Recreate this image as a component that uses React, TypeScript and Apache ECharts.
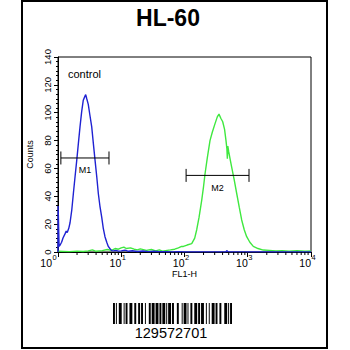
import React, { useEffect, useRef } from "react";
import * as echarts from "echarts";

const blueX = [1.0, 1.005, 1.04, 1.08, 1.14, 1.2, 1.29, 1.35, 1.4, 1.48, 1.55, 1.65, 1.75, 1.86, 1.98, 2.1, 2.23, 2.37, 2.51, 2.62, 2.74, 2.85, 3.01, 3.2, 3.41, 3.62, 3.85, 4.1, 4.34, 4.6, 4.91, 5.2, 5.53, 5.9, 6.24, 6.6, 7.06, 7.6, 8.2, 9, 10, 11.5, 13, 15, 18, 22, 27, 33, 40, 50, 65, 80, 100, 130, 170, 220, 300, 400, 450, 470, 490, 600, 800, 1000, 1500, 2500, 4000, 6000, 10000];
const blueY = [0, 33, 4, 5, 7, 10, 13, 15, 14, 17, 21, 30, 42, 54, 66, 78, 90, 101, 109, 111, 113, 110, 106, 98, 90, 78, 66, 54, 42, 33, 25, 17, 11, 7, 4, 2.5, 1, 0.8, 1.2, 0.6, 0.8, 1.3, 0.5, 0.9, 0.4, 0.7, 0.3, 0.5, 0.2, 0.3, 0.1, 0.2, 0.1, 0.1, 0.1, 0.1, 0.1, 0.1, 0.1, 1, 0.1, 0.1, 0.1, 0.1, 0.1, 0.1, 0.1, 0.1, 0.1];

const greenX = [1, 1.5, 2, 2.5, 3, 3.5, 4, 5, 6, 7, 8, 9, 10, 11, 12, 14, 16, 18, 20, 25, 30, 35, 40, 45, 50, 60, 70, 80, 90, 96, 110, 130, 145, 156, 170, 187, 200, 211, 230, 253, 275, 303, 330, 351, 375, 402, 430, 453, 468, 476, 484, 500, 530, 557, 610, 669, 735, 802, 880, 962, 1080, 1224, 1450, 1763, 2200, 2800, 3500, 4500, 6000, 8000, 10000];
const greenY = [0.5, 0.3, 0.6, 0.4, 0.8, 1.5, 0.5, 1, 1.8, 1.2, 2.5, 2, 3, 3.5, 2.5, 3, 2, 1.5, 2.2, 1.2, 1.8, 0.8, 1.5, 0.6, 1, 1.5, 2, 3, 4, 4, 5, 6, 10, 16, 25, 37, 47, 56, 68, 80, 86, 92, 97, 99, 96, 93.5, 88, 80, 74, 67, 76, 72, 66, 61, 52, 42, 32, 23, 16, 11, 7, 4, 2.5, 1.4, 1.2, 0.8, 1, 0.6, 0.9, 0.5, 0.7];

const xTickValues = [1, 10, 100, 1000, 10000];
const xTickExponents = ["0", "1", "2", "3", "4"];
const minorTickValues = [2, 3, 4, 5, 6, 7, 8, 9, 20, 30, 40, 50, 60, 70, 80, 90, 200, 300, 400, 500, 600, 700, 800, 900, 2000, 3000, 4000, 5000, 6000, 7000, 8000, 9000];

const markerNames = ["M1", "M2"];
const markerStart = [1.11, 106];
const markerEnd = [6.4, 1047];
const markerLevel = [67.5, 55];

const barcodeText = "129572701";
const barcodePattern =
  "11010011100" + "10110011100" + "11001101100" + "10001101110" + "11101101110" +
  "10111011000" + "11000101110" + "10011001110" + "11011100100" + "10011101100" + "1100011101011";

const FONT = "'Liberation Sans', Arial, sans-serif";
const BLUE = "#1f22d2";
const GREEN = "#3fe83f";

function barcodeRects(x0: number, y0: number, w: number, h: number) {
  const m = w / barcodePattern.length;
  const rects: any[] = [];
  let i = 0;
  while (i < barcodePattern.length) {
    if (barcodePattern[i] === "1") {
      let j = i;
      while (j < barcodePattern.length && barcodePattern[j] === "1") j++;
      rects.push({ type: "rect", shape: { x: x0 + i * m, y: y0, width: (j - i) * m, height: h }, style: { fill: "#000" } });
      i = j;
    } else i++;
  }
  return rects;
}

export default function App() {
  const ref = useRef<HTMLDivElement>(null);
  useEffect(() => {
    if (!ref.current) return;
    const chart = echarts.init(ref.current, undefined, { renderer: "svg" });
    const option: any = {
      animation: false,
      backgroundColor: "#fff",
      grid: { left: 58, top: 57, right: 39, bottom: 98, show: true, borderColor: "#000", borderWidth: 1, outerBoundsMode: "none" },
      xAxis: {
        type: "log", logBase: 10, min: 1, max: 10000,
        axisLine: { show: true, lineStyle: { color: "#000", width: 1 } },
        axisTick: { show: true, length: 5, lineStyle: { color: "#000" } },
        axisLabel: { show: false },
        splitLine: { show: false },
        name: "FL1-H", nameLocation: "middle", nameGap: 17,
        nameTextStyle: { fontSize: 9, color: "#000", fontFamily: FONT },
      },
      yAxis: {
        type: "value", min: 0, max: 140, interval: 20,
        axisLine: { show: true, lineStyle: { color: "#000", width: 1 } },
        axisTick: { show: true, length: 4, lineStyle: { color: "#000" } },
        minorTick: { show: true, splitNumber: 6, length: 2, lineStyle: { color: "#000" } },
        axisLabel: { rotate: 90, fontSize: 9.5, margin: 6, color: "#000", fontFamily: FONT },
        splitLine: { show: false },
        name: "Counts", nameLocation: "middle", nameGap: 18,
        nameTextStyle: { fontSize: 9, color: "#000", fontFamily: FONT },
      },
      series: [
        {
          type: "line", data: greenX.map((x, i) => [x, greenY[i]]), showSymbol: false, symbol: "none",
          lineStyle: { color: GREEN, width: 1.4 }, z: 2,
        },
        {
          type: "line", data: blueX.map((x, i) => [x, blueY[i]]), showSymbol: false, symbol: "none",
          lineStyle: { color: BLUE, width: 1.4 }, z: 3,
        },
        {
          type: "custom", z: 4,
          data: markerStart.map((s, i) => [s, markerEnd[i], markerLevel[i]]),
          encode: { x: [0, 1], y: 2 },
          renderItem: (params: any, api: any) => {
            const a = api.coord([api.value(0), api.value(2)]);
            const b = api.coord([api.value(1), api.value(2)]);
            const st = { stroke: "#000", lineWidth: 1 };
            return {
              type: "group",
              children: [
                { type: "line", shape: { x1: a[0], y1: a[1], x2: b[0], y2: b[1] }, style: st },
                { type: "line", shape: { x1: a[0], y1: a[1] - 6.5, x2: a[0], y2: a[1] + 6.5 }, style: st },
                { type: "line", shape: { x1: b[0], y1: b[1] - 6.5, x2: b[0], y2: b[1] + 6.5 }, style: st },
                {
                  type: "text", x: (a[0] + b[0]) / 2, y: a[1] + 12.5,
                  style: { text: markerNames[params.dataIndex], fontSize: 9, fontFamily: FONT, fill: "#000", align: "center", verticalAlign: "middle" },
                },
              ],
            };
          },
        },
        {
          type: "custom", z: 4,
          data: minorTickValues.map((v) => [v, 0]),
          encode: { x: 0, y: 1 },
          renderItem: (_p: any, api: any) => {
            const p = api.coord([api.value(0), 0]);
            return { type: "line", shape: { x1: p[0], y1: p[1], x2: p[0], y2: p[1] + 3 }, style: { stroke: "#000", lineWidth: 1 } };
          },
        },
        {
          type: "custom", z: 4,
          data: xTickValues.map((v) => [v, 0]),
          encode: { x: 0, y: 1 },
          renderItem: (params: any, api: any) => {
            const p = api.coord([api.value(0), 0]);
            const i = params.dataIndex;
            const dx = i === 0 ? -6 : 0;
            return {
              type: "group",
              children: [
                { type: "text", x: p[0] + dx, y: p[1] + 10.5, style: { text: "10", fontSize: 10.5, fontFamily: FONT, fill: "#000", align: "right", verticalAlign: "middle" } },
                { type: "text", x: p[0] + dx + 0.5, y: p[1] + 5, style: { text: xTickExponents[i], fontSize: 7.5, fontFamily: FONT, fill: "#000", align: "left", verticalAlign: "middle" } },
              ],
            };
          },
        },
      ],
      graphic: [
        { type: "rect", shape: { x: 22, y: 1, width: 305, height: 347 }, style: { fill: "none", stroke: "#000", lineWidth: 2 }, silent: true },
        { type: "text", x: 168, y: 18, style: { text: "HL-60", font: `bold 23px ${FONT}`, fill: "#000", align: "center", verticalAlign: "middle" } },
        { type: "text", x: 68, y: 74, style: { text: "control", fontSize: 11, fontFamily: FONT, fill: "#000", align: "left", verticalAlign: "middle" } },
        { type: "group", children: barcodeRects(113, 303, 119, 21) },
        { type: "text", x: 171, y: 333, style: { text: barcodeText, fontSize: 14.5, fontFamily: FONT, fill: "#000", align: "center", verticalAlign: "middle" } },
      ],
    };
    chart.setOption(option);
    return () => chart.dispose();
  }, []);
  return <div ref={ref} style={{ position: "fixed", left: 0, top: 0, width: 350, height: 350, background: "#fff" }} />;
}
